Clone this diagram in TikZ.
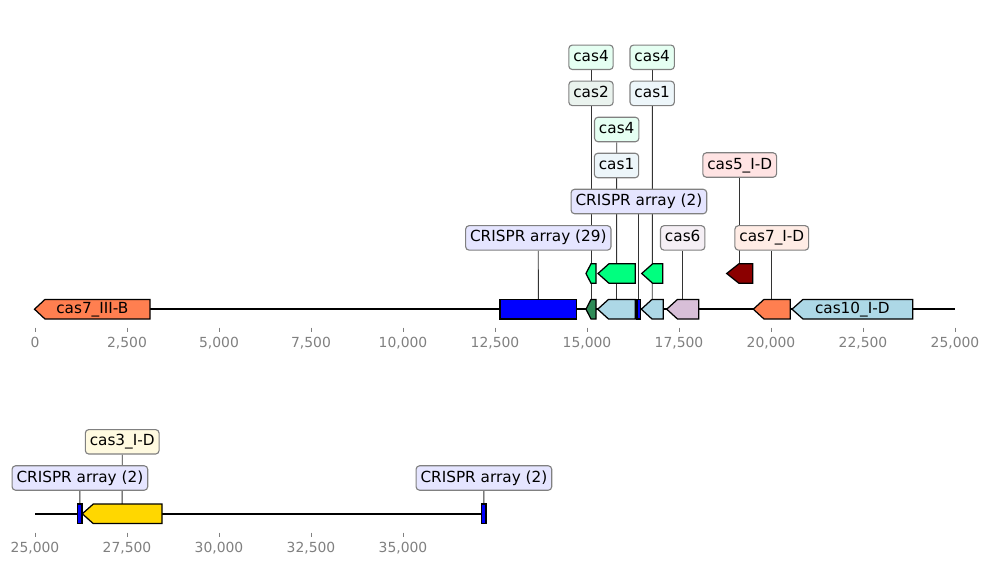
\documentclass[tikz,border=0pt]{standalone}
\usepackage{fontspec}
\setmainfont{DejaVu Sans}
\pgfdeclarelayer{bg}
\pgfsetlayers{bg,main}
\definecolor{ccoral}{HTML}{FF7F50}
\definecolor{cseagreen}{HTML}{2E8B57}
\definecolor{cspring}{HTML}{00FF7F}
\definecolor{clightblue}{HTML}{ADD8E6}
\definecolor{cthistle}{HTML}{D8BFD8}
\definecolor{cdarkred}{HTML}{8B0000}
\definecolor{cgold}{HTML}{FFD700}
\definecolor{cblue}{HTML}{0000FF}
\definecolor{ctick}{HTML}{808080}
\newcommand\featarrow[6]{%
  \draw[feat,fill=#6] (#2,#5) -- (#3,#5-9.8) -- (#4,#5-9.8) -- (#4,#5+9.8) -- (#3,#5+9.8) -- cycle;
  \coordinate (#1) at ({(#2+#4)/2},#5-9.8);}
\newcommand\featrect[5]{%
  \draw[feat,fill=#5] (#2,#4-9.8) rectangle (#3,#4+9.8);
  \coordinate (#1) at ({(#2+#3)/2},#4-9.8);}
\begin{document}
\begin{tikzpicture}[x=0.72pt,y=-0.72pt,
  feat/.style={draw=black,line width=0.9pt,line join=miter},
  lab/.style={draw=ctick,line width=0.8pt,rounded corners=2.5pt,inner xsep=3.2pt,inner ysep=0pt,
    minimum height=17.6pt,text height=8.2pt,text depth=2.4pt,font=\fontsize{11}{13}\selectfont},
  conn/.style={draw=black!80,line width=0.6pt},
  axisline/.style={draw=black,line width=1.45pt},
  tickmark/.style={draw=ctick,line width=0.7pt},
  ticklab/.style={text=ctick,font=\fontsize{10}{12}\selectfont,inner sep=0pt},
  inlab/.style={font=\fontsize{11}{13}\selectfont,inner sep=0pt,text height=8.2pt,text depth=2.4pt}]
\begin{pgfonlayer}{bg}
\fill[white] (0,0) rectangle (989,566);
\end{pgfonlayer}
\useasboundingbox (0,0) rectangle (989,566);

% axis lines
\draw[axisline] (35,309.2) -- (955,309.2);
\draw[axisline] (35,513.8) -- (484,513.8);

% ticks
\foreach \k/\t in {0/0,1/{2,500},2/{5,000},3/{7,500},4/{10,000},5/{12,500},6/{15,000},7/{17,500},8/{20,000},9/{22,500},10/{25,000}}{
  \draw[tickmark] ({35+92*\k},327.7) -- ({35+92*\k},331.7);
  \node[ticklab] (tt\k) at ({35+92*\k},342.7) {\t};
}
\foreach \k/\t in {0/{25,000},1/{27,500},2/{30,000},3/{32,500},4/{35,000}}{
  \draw[tickmark] ({35+92*\k},532.7) -- ({35+92*\k},536.7);
  \node[ticklab] (bt\k) at ({35+92*\k},547.7) {\t};
}

% top row features, level 1 (y 309.2)
\featarrow{f1}{34.5}{45}{150}{309.2}{ccoral}
\node[inlab] (n1) at (92.3,309.2) {cas7\_III-B};
\featrect{f2}{500}{576.7}{309.2}{cblue}
\featarrow{f3}{586}{591}{596}{309.2}{cseagreen}
\featarrow{f5}{597.7}{608.5}{635.3}{309.2}{clightblue}
\featrect{f7}{637}{640.8}{309.2}{cblue}
\featarrow{f8}{641.3}{652}{663.3}{309.2}{clightblue}
\featarrow{f10}{666.7}{677.5}{698.7}{309.2}{cthistle}
\featarrow{f12}{753.3}{764}{790.3}{309.2}{ccoral}
\featarrow{f13}{792}{803}{912.7}{309.2}{clightblue}
\node[inlab] (n13) at (852.3,309.2) {cas10\_I-D};
% level 2 (y 273.5)
\featarrow{f4}{586}{591}{596}{273.5}{cspring}
\featarrow{f6}{598}{609}{635.3}{273.5}{cspring}
\featarrow{f9}{641.7}{652.7}{662.7}{273.5}{cspring}
\featarrow{f11}{726.7}{739}{752.7}{273.5}{cdarkred}

% bottom row
\featrect{g1}{77.7}{82}{513.8}{cblue}
\featarrow{g2}{82.3}{93.3}{162}{513.8}{cgold}
\featrect{g3}{481.7}{486}{513.8}{cblue}

% labels top
\node[lab,fill=cspring!10!white] (L4) at (591,57.3) {cas4};
\node[lab,fill=cseagreen!10!white] (L3) at (591,93.4) {cas2};
\node[lab,fill=cspring!10!white] (L9) at (652.2,57.3) {cas4};
\node[lab,fill=clightblue!22!white] (L8) at (652.2,93.4) {cas1};
\node[lab,fill=cspring!10!white] (L6) at (616.7,129.5) {cas4};
\node[lab,fill=clightblue!22!white] (L5) at (616.5,165.5) {cas1};
\node[lab,fill=red!11!white] (L11) at (739.7,165) {cas5\_I-D};
\node[lab,fill=cblue!10!white] (L7) at (638.9,201.5) {CRISPR array (2)};
\node[lab,fill=cblue!10!white] (L2) at (538.3,237.9) {CRISPR array (29)};
\node[lab,fill=cthistle!25!white] (L10) at (682.7,237.9) {cas6};
\node[lab,fill=ccoral!15!white] (L12) at (771.8,237.9) {cas7\_I-D};
% labels bottom
\node[lab,fill=cblue!10!white] (M1) at (79.9,478) {CRISPR array (2)};
\node[lab,fill=cgold!12!white] (M2) at (122.2,441.8) {cas3\_I-D};
\node[lab,fill=cblue!10!white] (M3) at (483.9,478) {CRISPR array (2)};

% connectors behind
\begin{pgfonlayer}{bg}
\foreach \a/\b in {L4/f4,L3/f3,L9/f9,L8/f8,L6/f6,L5/f5,L11/f11,L7/f7,L2/f2,L10/f10,L12/f12,M1/g1,M2/g2,M3/g3}{
  \draw[conn] (\a) -- (\b);
}
\end{pgfonlayer}
\end{tikzpicture}
\end{document}
